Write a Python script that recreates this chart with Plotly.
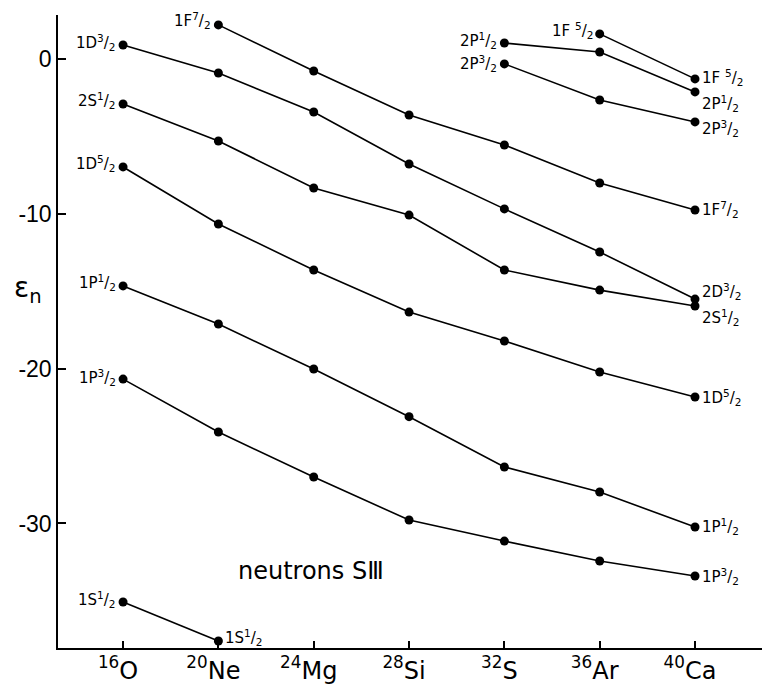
import plotly.graph_objects as go

# ---- data (mass numbers of nuclei and neutron single-particle energies, MeV) ----
nuclei_A = [16, 20, 24, 28, 32, 36, 40]
nuclei_labels = ["<sup>16</sup>O", "<sup>20</sup>Ne", "<sup>24</sup>Mg", "<sup>28</sup>Si",
                 "<sup>32</sup>S", "<sup>36</sup>Ar", "<sup>40</sup>Ca"]

x_1F72 = [20, 24, 28, 32, 36, 40]
e_1F72 = [2.22, -0.76, -3.60, -5.54, -8.00, -9.74]

x_1D32 = [16, 20, 24, 28, 32, 36, 40]
e_1D32 = [0.92, -0.89, -3.41, -6.77, -9.67, -12.46, -15.50]

x_2S12 = [16, 20, 24, 28, 32, 36, 40]
e_2S12 = [-2.89, -5.28, -8.32, -10.07, -13.62, -14.92, -15.95]

x_1D52 = [16, 20, 24, 28, 32, 36, 40]
e_1D52 = [-6.96, -10.65, -13.62, -16.34, -18.21, -20.21, -21.83]

x_1P12 = [16, 20, 24, 28, 32, 36, 40]
e_1P12 = [-14.65, -17.11, -20.02, -23.10, -26.35, -27.97, -30.23]

x_1P32 = [16, 20, 24, 28, 32, 36, 40]
e_1P32 = [-20.67, -24.09, -27.00, -29.78, -31.14, -32.43, -33.40]

x_1S12 = [16, 20]
e_1S12 = [-35.08, -37.60]

x_2P12 = [32, 36, 40]
e_2P12 = [1.05, 0.47, -2.11]

x_2P32 = [32, 36, 40]
e_2P32 = [-0.30, -2.63, -4.05]

x_1F52 = [36, 40]
e_1F52 = [1.64, -1.27]

y_tickvals = [0, -10, -20, -30]
y_ticktext = ["0", "-10", "-20", "-30"]


def frac(n):
    return "<sup>%s</sup>/<sub>2</sub>" % n


# series: (x, y, start label, end label)
series = [
    (x_1F72, e_1F72, "1F" + frac(7), "1F" + frac(7)),
    (x_1D32, e_1D32, "1D" + frac(3), "2D" + frac(3)),
    (x_2S12, e_2S12, "2S" + frac(1), "2S" + frac(1)),
    (x_1D52, e_1D52, "1D" + frac(5), "1D" + frac(5)),
    (x_1P12, e_1P12, "1P" + frac(1), "1P" + frac(1)),
    (x_1P32, e_1P32, "1P" + frac(3), "1P" + frac(3)),
    (x_1S12, e_1S12, "1S" + frac(1), "1S" + frac(1)),
    (x_2P12, e_2P12, "2P" + frac(1), "2P" + frac(1)),
    (x_2P32, e_2P32, "2P" + frac(3), "2P" + frac(3)),
    (x_1F52, e_1F52, "1F " + frac(5), "1F " + frac(5)),
]

# label style offsets (pixels): (start yshift, end yshift)
label_style = [
    (4, 0),
    (3, 8),
    (3, -11),
    (3, 0),
    (3, 1),
    (2, 0),
    (3, 4),
    (3, -12),
    (0, -7),
    (3, 1),
]

LFONT = "DejaVu Sans"
TFONT = "Liberation Sans"
fig = go.Figure()
annotations = []
for (xs, ys, lab0, lab1), (sh0, sh1) in zip(series, label_style):
    fig.add_trace(go.Scatter(
        x=xs, y=ys, mode="lines+markers",
        line=dict(color="black", width=1.6),
        marker=dict(color="black", size=9),
        cliponaxis=False, showlegend=False, hoverinfo="skip"))
    annotations.append(dict(
        x=xs[0], y=ys[0], text=lab0, showarrow=False,
        xanchor="right", yanchor="middle", xshift=-5, yshift=sh0,
        font=dict(family=LFONT, size=15, color="black")))
    annotations.append(dict(
        x=xs[-1], y=ys[-1], text=lab1, showarrow=False,
        xanchor="left", yanchor="middle", xshift=5, yshift=sh1,
        font=dict(family=LFONT, size=15, color="black")))

annotations.append(dict(
    x=23.9, y=-33.1, text="neutrons SⅢ", showarrow=False,
    xanchor="center", yanchor="middle",
    font=dict(family=LFONT, size=24, color="black")))
annotations.append(dict(
    x=-0.043, y=0.566, xref="paper", yref="paper", text="ε<sub>n</sub>",
    showarrow=False, xanchor="center", yanchor="middle",
    font=dict(family=LFONT, size=28, color="black")))

fig.update_layout(
    width=762, height=686,
    margin=dict(l=58, r=0, t=15, b=38),
    paper_bgcolor="white", plot_bgcolor="white",
    annotations=annotations,
    font=dict(family=LFONT, color="black"),
)
fig.update_xaxes(
    range=[13.27, 42.81], tickvals=nuclei_A, ticktext=nuclei_labels,
    showgrid=False, zeroline=False, showline=True, linecolor="black", linewidth=1.5,
    ticks="inside", ticklen=7, tickcolor="black", tickwidth=1.5,
    ticklabelshift=-5,
    tickfont=dict(family=LFONT, size=24, color="black"))
fig.update_yaxes(
    range=[-38.05, 2.86], tickvals=y_tickvals, ticktext=y_ticktext,
    showgrid=False, zeroline=False, showline=True, linecolor="black", linewidth=1.5,
    ticks="inside", ticklen=8, tickcolor="black", tickwidth=1.5,
    tickfont=dict(family=TFONT, size=23, color="black"))

fig.write_html("out.html", config={"displayModeBar": False},
               post_script=["document.body.style.margin='0';"])
